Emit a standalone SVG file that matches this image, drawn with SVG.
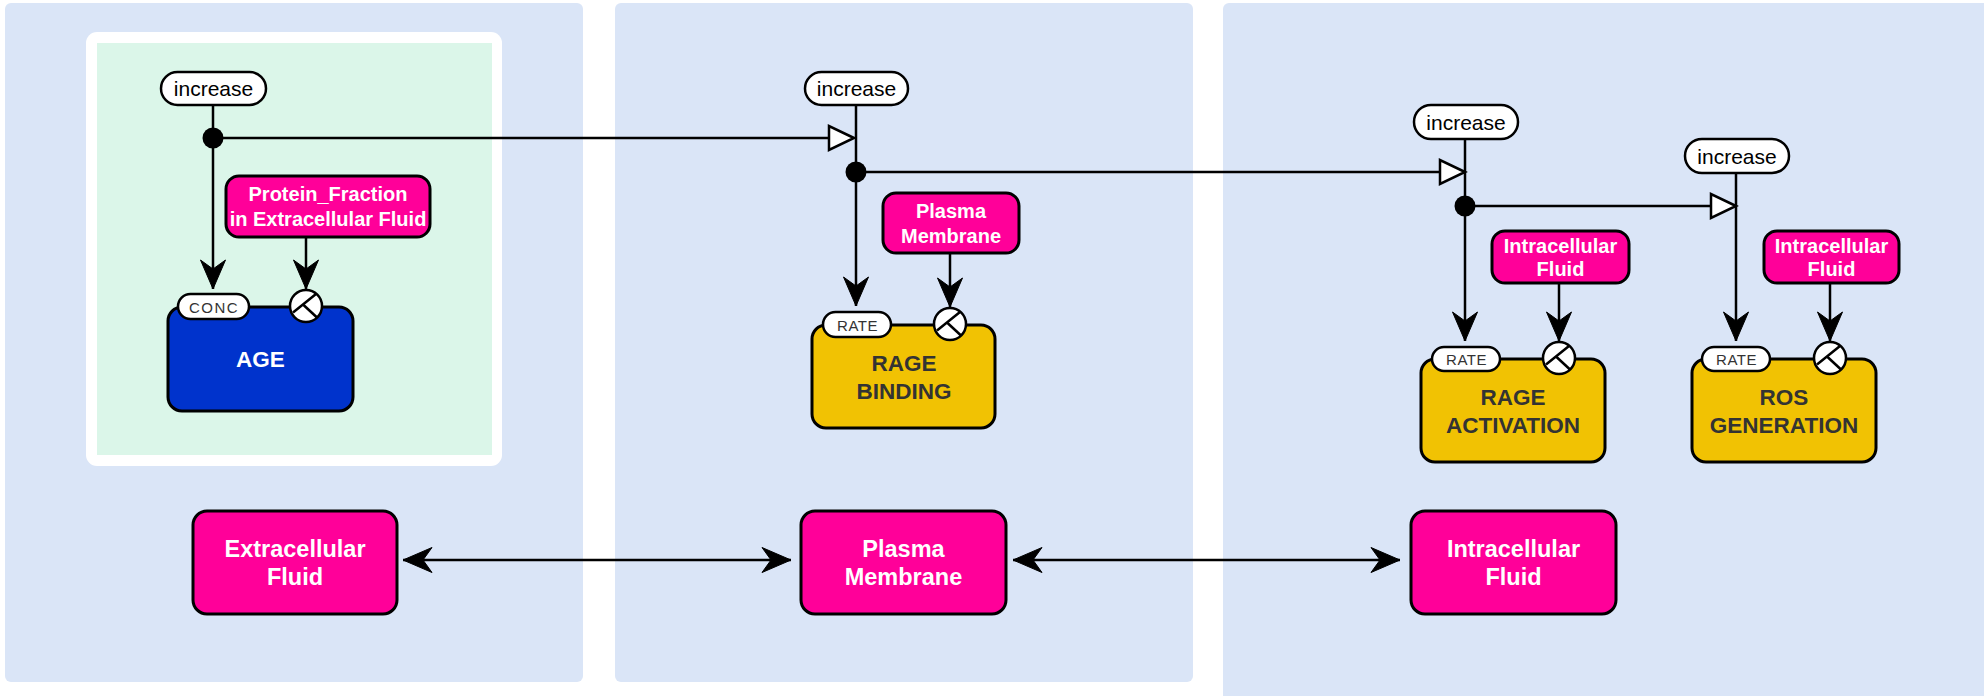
<svg xmlns="http://www.w3.org/2000/svg" width="1984" height="696" viewBox="0 0 1984 696">
  <style>
    .panel { fill: #dae5f7; }
    .node { stroke: #000; stroke-width: 3; }
    .comp { fill: #ff0099; }
    .species { fill: #0033cc; }
    .proc { fill: #f1c203; }
    .pill { fill: #fff; stroke: #000; stroke-width: 2.5; }
    .wire { fill: none; stroke: #000; stroke-width: 2.5; }
    .lbl { font-family: "Liberation Sans", Arial, sans-serif; text-anchor: middle; dominant-baseline: central; }
    .wt { fill: #fff; font-weight: bold; }
    .dk { fill: #333; font-weight: bold; }
    .inc { fill: #000; font-size: 21px; }
    .tab { fill: #333; font-size: 15px; letter-spacing: 0.5px; }
    .big { font-size: 22.5px; }
    .small { font-size: 20px; }
    .comp-lbl { font-size: 23.5px; }
  </style>
  <defs>
    <marker id="head" markerUnits="userSpaceOnUse" markerWidth="32" markerHeight="28" viewBox="-30 -14 32 28" refX="0" refY="0" orient="auto-start-reverse">
      <path d="M0,0 L-29,-12.5 L-20,0 L-29,12.5 Z" fill="#000" stroke="#000" stroke-width="1" stroke-linejoin="miter"/>
    </marker>
    <g id="modsym">
      <circle r="16" fill="#fff" stroke="#000" stroke-width="2.5"/>
      <path d="M10,-12 L-13,6.5 M-3,-1.5 L11,11.5" fill="none" stroke="#000" stroke-width="2.5"/>
    </g>
    <polygon id="tri" points="0,0 -25,-12 -25,12" fill="#fff" stroke="#000" stroke-width="2.5" stroke-linejoin="miter"/>
  </defs>

  <rect width="1984" height="696" fill="#fff"/>

  <!-- compartment panels -->
  <g id="panels">
    <rect class="panel" x="5" y="3" width="578" height="679" rx="6"/>
    <rect class="panel" x="615" y="3" width="578" height="679" rx="6"/>
    <rect class="panel" x="1223" y="3" width="770" height="700" rx="6"/>
    <rect x="86" y="32" width="416" height="434" rx="11" fill="#fff"/>
    <rect x="97" y="43" width="395" height="412" fill="#dbf6e9"/>
  </g>

  <!-- connectors -->
  <g id="connectors">
    <!-- influence chain -->
    <line class="wire" x1="213" y1="105" x2="213" y2="138"/>
    <line class="wire" x1="213" y1="138" x2="830" y2="138"/>
    <line class="wire" x1="213" y1="138" x2="213" y2="289" marker-end="url(#head)"/>
    <line class="wire" x1="856" y1="105" x2="856" y2="172"/>
    <line class="wire" x1="856" y1="172" x2="1441" y2="172"/>
    <line class="wire" x1="856" y1="172" x2="856" y2="306" marker-end="url(#head)"/>
    <line class="wire" x1="1465" y1="139" x2="1465" y2="206"/>
    <line class="wire" x1="1465" y1="206" x2="1712" y2="206"/>
    <line class="wire" x1="1465" y1="206" x2="1465" y2="341" marker-end="url(#head)"/>
    <line class="wire" x1="1736" y1="173" x2="1736" y2="341" marker-end="url(#head)"/>
    <use href="#tri" x="854" y="138"/>
    <use href="#tri" x="1465" y="172"/>
    <use href="#tri" x="1736" y="206"/>
    <circle cx="213" cy="138" r="10.5" fill="#000"/>
    <circle cx="856" cy="172" r="10.5" fill="#000"/>
    <circle cx="1465" cy="206" r="10.5" fill="#000"/>
    <!-- location modifiers -->
    <line class="wire" x1="306" y1="237" x2="306" y2="289" marker-end="url(#head)"/>
    <line class="wire" x1="950" y1="253" x2="950" y2="307" marker-end="url(#head)"/>
    <line class="wire" x1="1559" y1="283" x2="1559" y2="341" marker-end="url(#head)"/>
    <line class="wire" x1="1830" y1="283" x2="1830" y2="341" marker-end="url(#head)"/>
    <!-- compartment transport -->
    <line class="wire" stroke-width="3" x1="403" y1="560" x2="791" y2="560" marker-start="url(#head)" marker-end="url(#head)"/>
    <line class="wire" stroke-width="3" x1="1013" y1="560" x2="1400" y2="560" marker-start="url(#head)" marker-end="url(#head)"/>
  </g>

  <!-- increase tags -->
  <g id="inc1">
    <rect class="pill" x="161" y="72" width="105" height="33" rx="16.5"/>
    <text class="lbl inc" x="213.5" y="88.5">increase</text>
  </g>
  <g id="inc2">
    <rect class="pill" x="805" y="72" width="103" height="33" rx="16.5"/>
    <text class="lbl inc" x="856.5" y="88.5">increase</text>
  </g>
  <g id="inc3">
    <rect class="pill" x="1414" y="105" width="104" height="34" rx="17"/>
    <text class="lbl inc" x="1466" y="122">increase</text>
  </g>
  <g id="inc4">
    <rect class="pill" x="1685" y="139" width="104" height="34" rx="17"/>
    <text class="lbl inc" x="1737" y="156">increase</text>
  </g>

  <!-- location labels -->
  <g id="loc-protein">
    <rect class="node comp" x="226" y="176" width="204" height="61" rx="13"/>
    <text class="lbl wt small" x="328" y="194">Protein_Fraction</text>
    <text class="lbl wt small" x="328" y="219">in Extracellular Fluid</text>
  </g>
  <g id="loc-plasma">
    <rect class="node comp" x="883" y="193" width="136" height="60" rx="13"/>
    <text class="lbl wt small" x="951" y="211">Plasma</text>
    <text class="lbl wt small" x="951" y="236">Membrane</text>
  </g>
  <g id="loc-intra1">
    <rect class="node comp" x="1492" y="231" width="137" height="52" rx="13"/>
    <text class="lbl wt small" x="1560.5" y="246">Intracellular</text>
    <text class="lbl wt small" x="1560.5" y="269">Fluid</text>
  </g>
  <g id="loc-intra2">
    <rect class="node comp" x="1764" y="231" width="135" height="52" rx="13"/>
    <text class="lbl wt small" x="1831.5" y="246">Intracellular</text>
    <text class="lbl wt small" x="1831.5" y="269">Fluid</text>
  </g>

  <!-- AGE -->
  <g id="age">
    <rect class="node species" x="168" y="307" width="185" height="104" rx="14"/>
    <rect class="pill" x="178" y="294" width="71" height="25" rx="12.5"/>
    <text class="lbl tab" x="214" y="307" style="letter-spacing:1.5px">CONC</text>
    <use href="#modsym" x="306" y="306"/>
    <text class="lbl wt big" x="260.5" y="359">AGE</text>
  </g>

  <!-- RAGE BINDING -->
  <g id="rage-binding">
    <rect class="node proc" x="812" y="325" width="183" height="103" rx="14"/>
    <rect class="pill" x="823" y="312" width="68" height="25" rx="12.5"/>
    <text class="lbl tab" x="857.5" y="325">RATE</text>
    <use href="#modsym" x="950" y="324"/>
    <text class="lbl dk big" x="904" y="363">RAGE</text>
    <text class="lbl dk big" x="904" y="391">BINDING</text>
  </g>

  <!-- RAGE ACTIVATION -->
  <g id="rage-activation">
    <rect class="node proc" x="1421" y="359" width="184" height="103" rx="14"/>
    <rect class="pill" x="1432" y="347" width="68" height="24" rx="12"/>
    <text class="lbl tab" x="1466.5" y="359.5">RATE</text>
    <use href="#modsym" x="1559" y="358"/>
    <text class="lbl dk big" x="1513" y="397">RAGE</text>
    <text class="lbl dk big" x="1513" y="425">ACTIVATION</text>
  </g>

  <!-- ROS GENERATION -->
  <g id="ros-generation">
    <rect class="node proc" x="1692" y="359" width="184" height="103" rx="14"/>
    <rect class="pill" x="1702" y="347" width="68" height="24" rx="12"/>
    <text class="lbl tab" x="1736.5" y="359.5">RATE</text>
    <use href="#modsym" x="1830" y="358"/>
    <text class="lbl dk big" x="1784" y="397">ROS</text>
    <text class="lbl dk big" x="1784" y="425">GENERATION</text>
  </g>

  <!-- compartments -->
  <g id="extracellular">
    <rect class="node comp" x="193" y="511" width="204" height="103" rx="14"/>
    <text class="lbl wt comp-lbl" x="295" y="549">Extracellular</text>
    <text class="lbl wt comp-lbl" x="295" y="577">Fluid</text>
  </g>
  <g id="plasma-membrane">
    <rect class="node comp" x="801" y="511" width="205" height="103" rx="14"/>
    <text class="lbl wt comp-lbl" x="903.5" y="549">Plasma</text>
    <text class="lbl wt comp-lbl" x="903.5" y="577">Membrane</text>
  </g>
  <g id="intracellular">
    <rect class="node comp" x="1411" y="511" width="205" height="103" rx="14"/>
    <text class="lbl wt comp-lbl" x="1513.5" y="549">Intracellular</text>
    <text class="lbl wt comp-lbl" x="1513.5" y="577">Fluid</text>
  </g>
</svg>
